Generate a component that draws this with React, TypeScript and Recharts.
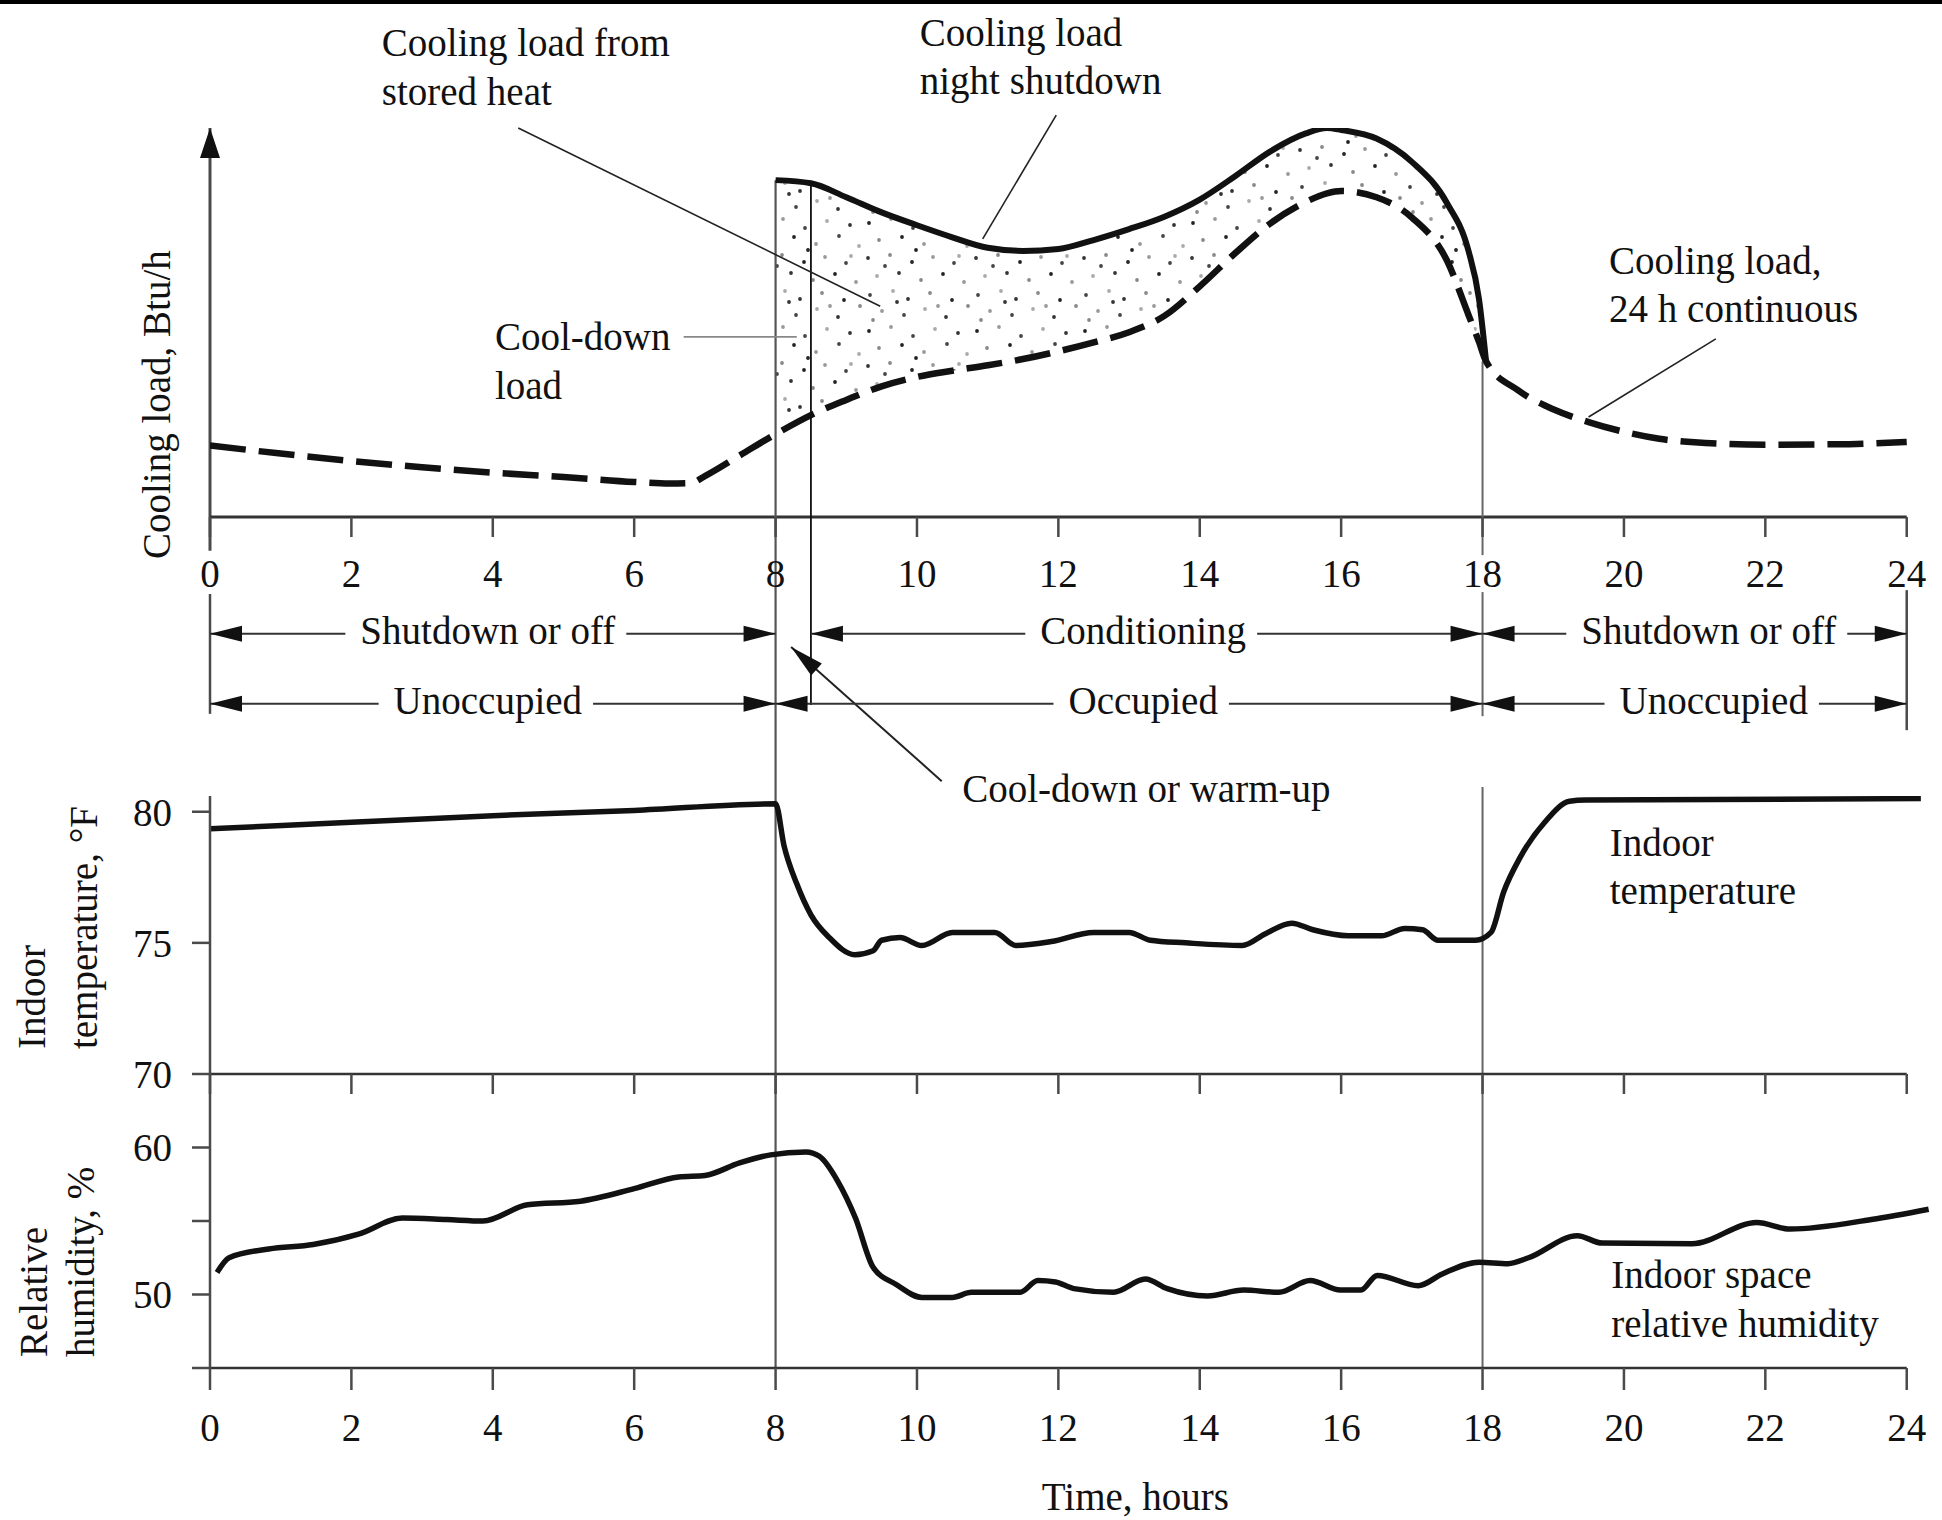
import React from "react";
import {
  ComposedChart,
  Line,
  Area,
  XAxis,
  YAxis,
  ReferenceLine,
  ReferenceDot,
} from "recharts";

const W = 1942;
const H = 1520;
const FONT = '"Liberation Serif", "Times New Roman", Times, serif';
const INK = "#111";
const AXIS = "#4a4a4a";
const TEXT_SIZE = 39;

// one hour scale shared by all three panels
const hourTicks = [0, 2, 4, 6, 8, 10, 12, 14, 16, 18, 20, 22, 24];
const HOUR_DOMAIN: [number, number] = [0, 24.4];

// cooling load, relative units (0 = axis, 100 = arrow tip)
const loadHours = [
  0, 1, 2, 3, 4, 5, 6, 6.5, 6.8, 7, 7.5, 8, 8.5, 9, 9.5, 10, 10.5, 11, 11.5, 12, 12.5, 13,
  13.5, 14, 14.5, 15, 15.5, 15.8, 16, 16.5, 17, 17.5, 17.8, 17.95, 18.05, 18.5, 19, 19.5, 20,
  20.5, 21, 22, 23, 24,
];
const loadContinuous = [
  18.4, 16.3, 14.4, 12.8, 11.4, 10.3, 9.0, 8.6, 8.7, 10.5, 15.9, 21.3, 26.2, 30.1, 33.6, 36.0,
  37.6, 39.0, 40.6, 42.6, 44.9, 47.5, 51.7, 59.3, 67.8, 75.5, 81.0, 83.2, 83.8, 82.2, 77.0,
  65.8, 52.0, 45.0, 40.0, 32.6, 27.7, 24.4, 21.9, 20.1, 19.2, 18.6, 18.7, 19.3,
];
const loadNightShutdown = [
  null, null, null, null, null, null, null, null, null, null, null, 86.6, 85.8, 82.2, 78.3,
  75.0, 71.9, 69.2, 68.4, 68.9, 71.2, 74.0, 77.2, 81.6, 87.6, 94.0, 98.6, 100, 99.5, 97.3,
  91.3, 80.6, 68.5, 56.0, 40.0, null, null, null, null, null, null, null, null, null,
];

// indoor temperature, °F
const tempHours = [
  0, 2, 4, 6, 8, 8.12, 8.3, 8.5, 8.76, 9.12, 9.38, 9.5, 9.76, 10.07, 10.5, 11.1, 11.4, 11.9,
  12.5, 13.0, 13.3, 13.8, 14.6, 14.93, 15.3, 15.6, 16.1, 16.57, 16.9, 17.15, 17.37, 17.9,
  18.12, 18.3, 18.53, 18.88, 19.23, 19.46, 24.2,
];
const tempValues = [
  79.35, 79.6, 79.85, 80.05, 80.3, 78.7, 77.25, 76.07, 75.2, 74.55, 74.7, 75.1, 75.2, 74.9,
  75.4, 75.4, 74.9, 75.05, 75.4, 75.4, 75.1, 75.0, 74.9, 75.35, 75.75, 75.5, 75.27, 75.27,
  75.55, 75.5, 75.1, 75.1, 75.4, 76.95, 78.25, 79.6, 80.4, 80.45, 80.5,
];

// indoor space relative humidity, %
const rhHours = [
  0.1, 0.27, 0.83, 1.46, 2.1, 2.72, 3.35, 3.86, 4.49, 5.24, 6.0, 6.63, 7.0, 7.49, 7.93, 8.43,
  8.62, 8.88, 9.13, 9.38, 9.7, 10.07, 10.5, 10.77, 11.46, 11.71, 11.96, 12.22, 12.78, 13.23,
  13.54, 14.11, 14.62, 15.12, 15.56, 15.99, 16.28, 16.51, 17.09, 17.43, 17.95, 18.36, 18.65,
  19.34, 19.69, 20.96, 21.88, 22.35, 23.5, 24.31,
];
const rhValues = [
  51.5, 52.5, 53.1, 53.4, 54.1, 55.2, 55.1, 55.0, 56.1, 56.35, 57.2, 58.0, 58.1, 58.95, 59.5,
  59.7, 59.4, 57.7, 55.2, 51.85, 50.7, 49.8, 49.8, 50.15, 50.15, 50.95, 50.85, 50.4, 50.15,
  51.05, 50.4, 49.9, 50.3, 50.15, 50.95, 50.3, 50.3, 51.3, 50.6, 51.4, 52.2, 52.1, 52.5, 54.0,
  53.5, 53.45, 54.9, 54.45, 55.1, 55.8,
];

// schedule bars under the load panel (hour spans, label centre hour)
const controlSpans = [
  { from: 0, to: 8, mid: 3.93, text: "Shutdown or off" },
  { from: 8.5, to: 18, mid: 13.2, text: "Conditioning" },
  { from: 18, to: 24, mid: 21.2, text: "Shutdown or off" },
];
const occupancySpans = [
  { from: 0, to: 8, mid: 3.93, text: "Unoccupied" },
  { from: 8, to: 18, mid: 13.2, text: "Occupied" },
  { from: 18, to: 24, mid: 21.27, text: "Unoccupied" },
];
const CONTROL_ROW = -30;
const OCCUPANCY_ROW = -48;

// callouts on the load panel (hour, load value at text baseline)
const loadNotes = [
  { h: 2.43, v: 118.4, lines: ["Cooling load from", "stored heat"] },
  { h: 10.04, v: 121.1, lines: ["Cooling load", "night shutdown"] },
  { h: 4.03, v: 42.9, lines: ["Cool-down", "load"] },
  { h: 19.79, v: 62.5, lines: ["Cooling load,", "24 h continuous"] },
  { h: 10.64, v: -73.3, lines: ["Cool-down or warm-up"] },
];
const loadLeaders = [
  { h1: 4.36, v1: 100, h2: 9.48, v2: 54.2 },
  { h1: 11.97, v1: 103.3, h2: 10.93, v2: 71.5 },
  { h1: 21.3, v1: 45.8, h2: 19.5, v2: 25.7 },
];

const loadRows = loadHours.map((h, i) => ({
  h,
  cont: loadContinuous[i],
  shut: loadNightShutdown[i],
}));
const tempRows = tempHours.map((h, i) => ({ h, t: tempValues[i] }));
const rhRows = rhHours.map((h, i) => ({ h, rh: rhValues[i] }));

const tickFont = { fontSize: TEXT_SIZE, fontFamily: FONT, fill: INK };
const tickStroke = { stroke: AXIS, strokeWidth: 2.5 };

// width of a label in the page font, so the span line can stop short of it
let measureCtx: CanvasRenderingContext2D | null = null;
function textWidth(s: string) {
  if (!measureCtx && typeof document !== "undefined") {
    measureCtx = document.createElement("canvas").getContext("2d");
  }
  if (!measureCtx) return s.length * TEXT_SIZE * 0.45;
  measureCtx.font = `${TEXT_SIZE}px ${FONT}`;
  return measureCtx.measureText(s).width;
}

function head(tx: number, ty: number, fx: number, fy: number, len = 32, half = 8) {
  const d = Math.hypot(tx - fx, ty - fy) || 1;
  const ux = (tx - fx) / d;
  const uy = (ty - fy) / d;
  const bx = tx - ux * len;
  const by = ty - uy * len;
  return `${tx},${ty} ${bx - uy * half},${by + ux * half} ${bx + uy * half},${by - ux * half}`;
}

const plainLine = (color: string, width: number) => (p: any) => (
  <line x1={p.x1} y1={p.y1} x2={p.x2} y2={p.y2} stroke={color} strokeWidth={width} />
);

const arrowLine = (color: string, width: number, len: number, half: number) => (p: any) => (
  <g>
    <line x1={p.x1} y1={p.y1} x2={p.x2} y2={p.y2} stroke={color} strokeWidth={width} />
    <polygon points={head(p.x2, p.y2, p.x1, p.y1, len, half)} fill={INK} />
  </g>
);

const spanShape = (s: { from: number; to: number; mid: number; text: string }) => (p: any) => {
  const cx = p.x1 + ((s.mid - s.from) / (s.to - s.from)) * (p.x2 - p.x1);
  const half = textWidth(s.text) / 2;
  const y = p.y1;
  return (
    <g>
      <line x1={p.x1} y1={y} x2={cx - half - 15} y2={y} stroke="#333" strokeWidth={2} />
      <line x1={cx + half + 11} y1={y} x2={p.x2} y2={y} stroke="#333" strokeWidth={2} />
      <polygon points={head(p.x1, y, p.x2, y)} fill={INK} />
      <polygon points={head(p.x2, y, p.x1, y)} fill={INK} />
      <text x={cx} y={y + 10} textAnchor="middle" fontSize={TEXT_SIZE} fontFamily={FONT} fill={INK}>
        {s.text}
      </text>
    </g>
  );
};

const noteShape = (lines: string[], gap: number, anchor: "start" | "middle" = "start") =>
  (p: any) => (
    <text x={p.cx} y={p.cy} textAnchor={anchor} fontSize={TEXT_SIZE} fontFamily={FONT} fill={INK}>
      {lines.map((s, i) => (
        <tspan key={i} x={p.cx} dy={i === 0 ? 0 : gap}>
          {s}
        </tspan>
      ))}
    </text>
  );

const sideTitle = (lines: string[], gap: number) => (p: any) => (
  <text
    transform={`rotate(-90 ${p.cx} ${p.cy})`}
    x={p.cx}
    y={p.cy}
    fontSize={TEXT_SIZE}
    fontFamily={FONT}
    fill={INK}
  >
    {lines.map((s, i) => (
      <tspan key={i} x={p.cx} dy={i === 0 ? 0 : gap}>
        {s}
      </tspan>
    ))}
  </text>
);

// scattered dots for the stored-heat band (one 108px tile, irregular on purpose)
const stippleDots = [
  [5, 7], [27, 3], [49, 12], [71, 5], [94, 9], [15, 24], [38, 21], [60, 28], [83, 20],
  [103, 30], [4, 42], [26, 39], [48, 46], [69, 41], [90, 47], [13, 60], [35, 57], [57, 64],
  [79, 58], [100, 66], [6, 79], [29, 75], [44, 83], [66, 77], [88, 84], [18, 95], [40, 99],
  [61, 93], [82, 101], [104, 90], [52, 34], [74, 90], [21, 50], [95, 40], [33, 86], [9, 104],
];
const stippleTones = ["#222", "#999", "#444", "#aaa", "#333", "#888"];

function LoadPanel() {
  return (
    <ComposedChart
      width={W}
      height={H}
      data={loadRows}
      margin={{ top: 128, right: 7, bottom: 943, left: 210 }}
    >
      <defs>
        <pattern id="stipple" width={108} height={108} patternUnits="userSpaceOnUse">
          {stippleDots.map(([x, y], i) => (
            <circle key={i} cx={x} cy={y} r={1.9} fill={stippleTones[i % stippleTones.length]} />
          ))}
        </pattern>
      </defs>
      <XAxis
        type="number"
        dataKey="h"
        domain={HOUR_DOMAIN}
        ticks={hourTicks}
        interval={0}
        allowDataOverflow
        height={60}
        axisLine={false}
        tickLine={tickStroke}
        tickSize={20}
        tickMargin={22}
        tick={tickFont}
      />
      <YAxis hide domain={[0, 100]} allowDataOverflow />

      <Area
        type="monotone"
        dataKey={(d: any) => (d.shut == null ? null : [d.cont, d.shut])}
        stroke="none"
        fill="url(#stipple)"
        fillOpacity={1}
        isAnimationActive={false}
      />

      {/* axes */}
      <ReferenceLine
        segment={[{ x: 0, y: -8.7 }, { x: 0, y: 100 }]}
        ifOverflow="visible"
        shape={arrowLine(AXIS, 3, 30, 10)}
      />
      <ReferenceLine
        segment={[{ x: 0, y: 0 }, { x: 24, y: 0 }]}
        ifOverflow="visible"
        shape={plainLine("#333", 3)}
      />
      <ReferenceLine
        segment={[{ x: 0, y: -19.8 }, { x: 0, y: -50.6 }]}
        ifOverflow="visible"
        shape={plainLine(AXIS, 2.5)}
      />
      <ReferenceLine
        segment={[{ x: 24, y: -18.8 }, { x: 24, y: -54.8 }]}
        ifOverflow="visible"
        shape={plainLine(AXIS, 2.5)}
      />

      {/* schedule markers through all panels */}
      <ReferenceLine
        segment={[{ x: 8, y: 86.6 }, { x: 8, y: -218.8 }]}
        ifOverflow="visible"
        shape={plainLine("#555", 2.2)}
      />
      <ReferenceLine
        segment={[{ x: 8.5, y: 85.8 }, { x: 8.5, y: -48.3 }]}
        ifOverflow="visible"
        shape={plainLine(INK, 1.8)}
      />
      <ReferenceLine
        segment={[{ x: 18, y: 40 }, { x: 18, y: -9.8 }]}
        ifOverflow="visible"
        shape={plainLine("#666", 2)}
      />
      <ReferenceLine
        segment={[{ x: 18, y: -19.3 }, { x: 18, y: -51.2 }]}
        ifOverflow="visible"
        shape={plainLine("#666", 2)}
      />
      <ReferenceLine
        segment={[{ x: 18, y: -69.4 }, { x: 18, y: -218.8 }]}
        ifOverflow="visible"
        shape={plainLine("#666", 2)}
      />

      <Line
        type="monotone"
        dataKey="cont"
        stroke={INK}
        strokeWidth={6.5}
        strokeDasharray="36 13"
        dot={false}
        activeDot={false}
        isAnimationActive={false}
      />
      <Line
        type="monotone"
        dataKey="shut"
        stroke={INK}
        strokeWidth={6}
        dot={false}
        activeDot={false}
        isAnimationActive={false}
      />

      {loadLeaders.map((l, i) => (
        <ReferenceLine
          key={`ld${i}`}
          segment={[{ x: l.h1, y: l.v1 }, { x: l.h2, y: l.v2 }]}
          ifOverflow="visible"
          shape={plainLine("#222", 1.6)}
        />
      ))}
      <ReferenceLine
        segment={[{ x: 6.7, y: 46.3 }, { x: 8.3, y: 46.3 }]}
        ifOverflow="visible"
        shape={plainLine("#888", 1.6)}
      />
      <ReferenceLine
        segment={[{ x: 10.35, y: -67.9 }, { x: 8.22, y: -33.4 }]}
        ifOverflow="visible"
        shape={arrowLine("#222", 2, 34, 8)}
      />

      {controlSpans.map((s, i) => (
        <ReferenceLine
          key={`cs${i}`}
          segment={[{ x: s.from, y: CONTROL_ROW }, { x: s.to, y: CONTROL_ROW }]}
          ifOverflow="visible"
          shape={spanShape(s)}
        />
      ))}
      {occupancySpans.map((s, i) => (
        <ReferenceLine
          key={`os${i}`}
          segment={[{ x: s.from, y: OCCUPANCY_ROW }, { x: s.to, y: OCCUPANCY_ROW }]}
          ifOverflow="visible"
          shape={spanShape(s)}
        />
      ))}

      {loadNotes.map((n, i) => (
        <ReferenceDot
          key={`n${i}`}
          x={n.h}
          y={n.v}
          r={0}
          ifOverflow="visible"
          shape={noteShape(n.lines, 48.5)}
        />
      ))}
      <ReferenceDot
        x={-0.566}
        y={-10.8}
        r={0}
        ifOverflow="visible"
        shape={sideTitle(["Cooling load, Btu/h"], 0)}
      />
    </ComposedChart>
  );
}

function TemperaturePanel() {
  return (
    <ComposedChart
      width={W}
      height={H}
      data={tempRows}
      margin={{ top: 796, right: 7, bottom: 416, left: 150 }}
    >
      <XAxis
        type="number"
        dataKey="h"
        domain={HOUR_DOMAIN}
        ticks={hourTicks}
        interval={0}
        allowDataOverflow
        height={30}
        axisLine={false}
        tickLine={tickStroke}
        tickSize={20}
        tickFormatter={() => ""}
      />
      <YAxis
        width={60}
        domain={[70, 80.6]}
        ticks={[70, 75, 80]}
        interval={0}
        allowDataOverflow
        axisLine={{ stroke: AXIS, strokeWidth: 2.5 }}
        tickLine={tickStroke}
        tickSize={18}
        tickMargin={20}
        tick={tickFont}
      />
      <ReferenceLine
        segment={[{ x: 0, y: 70 }, { x: 24, y: 70 }]}
        ifOverflow="visible"
        shape={plainLine("#333", 2.5)}
      />
      <Line
        type="monotone"
        dataKey="t"
        stroke={INK}
        strokeWidth={5.5}
        dot={false}
        activeDot={false}
        isAnimationActive={false}
      />
      <ReferenceDot
        x={19.8}
        y={78.31}
        r={0}
        ifOverflow="visible"
        shape={noteShape(["Indoor", "temperature"], 48)}
      />
      <ReferenceDot
        x={-2.334}
        y={70.95}
        r={0}
        ifOverflow="visible"
        shape={sideTitle(["Indoor", "temperature, °F"], 52)}
      />
    </ComposedChart>
  );
}

function HumidityPanel() {
  return (
    <ComposedChart
      width={W}
      height={H}
      data={rhRows}
      margin={{ top: 1074, right: 7, bottom: 92, left: 150 }}
    >
      <XAxis
        type="number"
        dataKey="h"
        domain={HOUR_DOMAIN}
        ticks={hourTicks}
        interval={0}
        allowDataOverflow
        height={60}
        axisLine={false}
        tickLine={tickStroke}
        tickSize={22}
        tickMargin={23}
        tick={tickFont}
      />
      <YAxis
        width={60}
        domain={[45, 65]}
        ticks={[45, 50, 55, 60]}
        interval={0}
        allowDataOverflow
        axisLine={{ stroke: AXIS, strokeWidth: 2.5 }}
        tickLine={tickStroke}
        tickSize={18}
        tickMargin={20}
        tick={tickFont}
        tickFormatter={(v: number) => (v === 50 || v === 60 ? String(v) : "")}
      />
      <ReferenceLine
        segment={[{ x: 0, y: 45 }, { x: 24, y: 45 }]}
        ifOverflow="visible"
        shape={plainLine("#333", 2.5)}
      />
      <Line
        type="monotone"
        dataKey="rh"
        stroke={INK}
        strokeWidth={5.5}
        dot={false}
        activeDot={false}
        isAnimationActive={false}
      />
      <ReferenceDot
        x={19.82}
        y={50.44}
        r={0}
        ifOverflow="visible"
        shape={noteShape(["Indoor space", "relative humidity"], 49)}
      />
      <ReferenceDot
        x={-2.305}
        y={45.75}
        r={0}
        ifOverflow="visible"
        shape={sideTitle(["Relative", "humidity, %"], 46.5)}
      />
      <ReferenceDot
        x={13.09}
        y={35.34}
        r={0}
        ifOverflow="visible"
        shape={noteShape(["Time, hours"], 0, "middle")}
      />
    </ComposedChart>
  );
}

const layer: React.CSSProperties = { position: "absolute", left: 0, top: 0 };

export default function App() {
  return (
    <div
      style={{
        position: "absolute",
        left: 0,
        top: 0,
        width: W,
        height: H,
        background: "#fff",
        overflow: "hidden",
      }}
    >
      <div style={{ ...layer, width: W, height: 4, background: "#000" }} />
      <div style={layer}>
        <LoadPanel />
      </div>
      <div style={layer}>
        <TemperaturePanel />
      </div>
      <div style={layer}>
        <HumidityPanel />
      </div>
    </div>
  );
}
